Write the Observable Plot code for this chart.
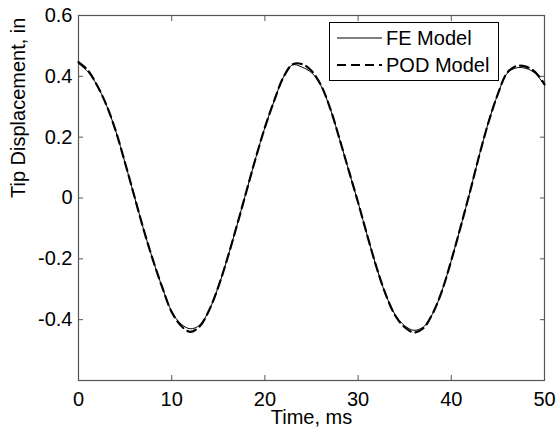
<!DOCTYPE html>
<html><head><meta charset="utf-8">
<script src="https://cdn.jsdelivr.net/npm/d3@7"></script>
<script src="https://cdn.jsdelivr.net/npm/@observablehq/plot@0.6"></script>
<style>body{margin:0;background:#fff;}#chart{position:relative;width:558px;height:433px;}</style>
</head><body><div id="chart"></div>
<script>
const time = [0,1,2,3,4,5,6,7,8,9,10,11,12,13,14,15,16,17,18,19,20,21,22,23,24,25,26,27,28,29,30,31,32,33,34,35,36,37,38,39,40,41,42,43,44,45,46,47,48,49,50];
const feModel = [0.442,0.415,0.37,0.305,0.22,0.115,0.005,-0.105,-0.205,-0.295,-0.373,-0.414,-0.43,-0.418,-0.37,-0.292,-0.196,-0.09,0.02,0.13,0.232,0.32,0.398,0.438,0.43,0.412,0.37,0.295,0.195,0.09,-0.015,-0.125,-0.23,-0.32,-0.385,-0.42,-0.435,-0.424,-0.38,-0.305,-0.205,-0.095,0.02,0.14,0.25,0.342,0.41,0.428,0.426,0.41,0.37];
const podModel = [0.447,0.42,0.37,0.305,0.22,0.115,0.005,-0.105,-0.205,-0.295,-0.375,-0.42,-0.44,-0.422,-0.37,-0.292,-0.196,-0.09,0.02,0.13,0.232,0.32,0.398,0.44,0.44,0.418,0.372,0.295,0.195,0.09,-0.015,-0.125,-0.23,-0.32,-0.387,-0.425,-0.442,-0.428,-0.38,-0.305,-0.205,-0.095,0.02,0.14,0.25,0.342,0.412,0.434,0.432,0.414,0.374];
const xTicks = [0,10,20,30,40,50];
const yTicks = [-0.4,-0.2,0,0.2,0.4,0.6];
const seriesNames = ["FE Model","POD Model"];
const xLabel = "Time, ms";
const yLabel = "Tip Displacement, in";

const fe = time.map((t,i)=>({t, v: feModel[i]}));
const pod = time.map((t,i)=>({t, v: podModel[i]}));
const axisColor = "#555";
const font = "Liberation Sans, Arial, sans-serif";

const chart = Plot.plot({
  width: 558, height: 433,
  marginLeft: 78, marginRight: 14, marginTop: 15, marginBottom: 53,
  x: {domain: [0,50]},
  y: {domain: [-0.6,0.6]},
  style: {fontFamily: font, fontSize: "20px", color: "#000", background: "#fff"},
  marks: [
    Plot.axisX(xTicks, {anchor: "bottom", tickSize: -5, tickPadding: 16, label: null, stroke: axisColor, fontSize: 20}),
    Plot.axisX(xTicks, {anchor: "top", tickSize: -5, tickFormat: () => "", label: null, stroke: axisColor}),
    Plot.axisY(yTicks, {anchor: "left", tickSize: -5, tickPadding: 11, label: null, stroke: axisColor, fontSize: 20, tickFormat: d => d === 0 ? "0" : String(d)}),
    Plot.axisY(yTicks, {anchor: "right", tickSize: -5, tickFormat: () => "", label: null, stroke: axisColor}),
    Plot.frame({stroke: axisColor, strokeWidth: 1.2}),
    Plot.line(fe, {x: "t", y: "v", stroke: "#000", strokeWidth: 1, curve: "catmull-rom"}),
    Plot.line(pod, {x: "t", y: "v", stroke: "#000", strokeWidth: 2.2, strokeDasharray: "9,5", curve: "catmull-rom"}),
    Plot.text([xLabel], {frameAnchor: "bottom", dy: 37, lineAnchor: "middle", fontSize: 20, fill: "#000"}),
    Plot.text([yLabel], {frameAnchor: "left", dx: -60, rotate: -90, fontSize: 20, fill: "#000"})
  ]
});
document.getElementById("chart").appendChild(chart);

// legend inside the axes
const svg = d3.select(chart);
const lg = svg.append("g").attr("font-family", font).attr("font-size", 20).attr("text-anchor", "start");
lg.append("rect").attr("x", 329.5).attr("y", 22.5).attr("width", 169).attr("height", 58)
  .attr("fill", "#fff").attr("stroke", "#000").attr("stroke-width", 1);
const rows = [
  {name: seriesNames[0], w: 1, dash: null, y: 38},
  {name: seriesNames[1], w: 2.2, dash: "9,5", y: 65}
];
rows.forEach(r => {
  lg.append("line").attr("x1", 337).attr("x2", 382).attr("y1", r.y).attr("y2", r.y)
    .attr("stroke", "#000").attr("stroke-width", r.w).attr("stroke-dasharray", r.dash);
  lg.append("text").attr("x", 386).attr("y", r.y).attr("dy", "0.35em").attr("text-anchor", "start").attr("fill", "#000").text(r.name);
});
</script>
</body></html>
